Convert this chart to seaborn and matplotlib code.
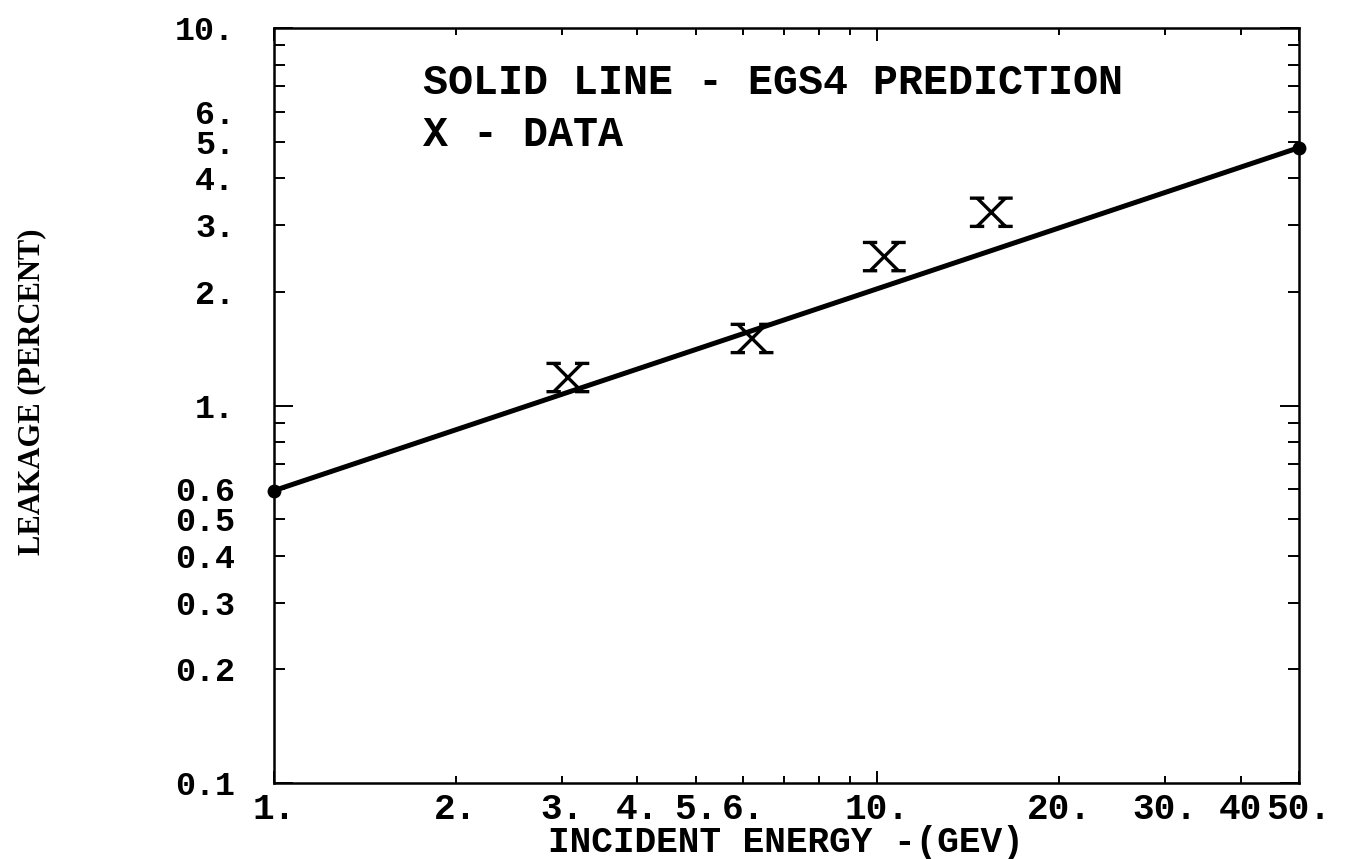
import matplotlib
matplotlib.use("Agg")
import matplotlib.pyplot as plt
import seaborn as sns
import pandas as pd
from matplotlib.path import Path
from matplotlib.ticker import FixedLocator, FixedFormatter

# ---- data ----
pred_energy = [1.0, 50.0]
pred_leakage = [0.595, 4.82]
data_energy = [3.07, 6.2, 10.27, 15.45]
data_leakage = [1.186, 1.505, 2.48, 3.25]

x_major = [1, 10, 50]
x_major_labels = ["1.", "10.", "50."]
x_minor = [2, 3, 4, 5, 6, 7, 8, 9, 20, 30, 40]
x_minor_labels = ["2.", "3.", "4.", "5.", "6.", "", "", "", "20.", "30.", "40"]
y_major = [0.1, 1, 10]
y_major_labels = ["0.1", "1.", "10."]
y_minor = [0.2, 0.3, 0.4, 0.5, 0.6, 0.7, 0.8, 0.9, 2, 3, 4, 5, 6, 7, 8, 9]
y_minor_labels = ["0.2", "0.3", "0.4", "0.5", "0.6", "", "", "",
                  "2.", "3.", "4.", "5.", "6.", "", "", ""]

legend_lines = ["SOLID LINE - EGS4 PREDICTION", "X - DATA"]
xlabel = "INCIDENT ENERGY -(GEV)"
ylabel = "LEAKAGE (PERCENT)"

sns.set_style("ticks")
plt.rcParams["font.family"] = ["Liberation Mono", "DejaVu Sans Mono"]
plt.rcParams["font.weight"] = "bold"

fig = plt.figure(figsize=(13.46, 8.59), dpi=100)
ax = fig.add_axes([274 / 1346, 1 - 783 / 859, 1025 / 1346, 755 / 859])

pred = pd.DataFrame({"energy": pred_energy, "leakage": pred_leakage})
dat = pd.DataFrame({"energy": data_energy, "leakage": data_leakage})

sns.lineplot(data=pred, x="energy", y="leakage", ax=ax, color="black",
             linewidth=3.6, marker="o", markersize=10, markeredgewidth=0,
             clip_on=False, zorder=4)

h = 0.66
verts = [(-h, h), (h, -h), (-h, -h), (h, h),
         (-1, h), (-0.33, h), (0.33, h), (1, h),
         (-1, -h), (-0.33, -h), (0.33, -h), (1, -h)]
codes = [Path.MOVETO, Path.LINETO] * 6
xmark = Path(verts, codes)
sns.scatterplot(data=dat, x="energy", y="leakage", ax=ax, marker=xmark,
                s=950, color="black", edgecolor="black", linewidth=2.4,
                zorder=5)
ax.collections[-1].set_facecolor("none")

ax.set_xscale("log")
ax.set_yscale("log")
ax.set_xlim(1, 50)
ax.set_ylim(0.1, 10)

ax.xaxis.set_major_locator(FixedLocator(x_major))
ax.xaxis.set_major_formatter(FixedFormatter(x_major_labels))
ax.xaxis.set_minor_locator(FixedLocator(x_minor))
ax.xaxis.set_minor_formatter(FixedFormatter(x_minor_labels))
ax.yaxis.set_major_locator(FixedLocator(y_major))
ax.yaxis.set_major_formatter(FixedFormatter(y_major_labels))
ax.yaxis.set_minor_locator(FixedLocator(y_minor))
ax.yaxis.set_minor_formatter(FixedFormatter(y_minor_labels))

for s in ax.spines.values():
    s.set_visible(True)
    s.set_color("black")
    s.set_linewidth(1.8)

ax.tick_params(axis="x", which="major", direction="in", length=9, width=1.4,
               top=True, bottom=True, labelsize=26, pad=6.5, colors="black")
ax.tick_params(axis="x", which="minor", direction="in", length=5, width=1.4,
               top=True, bottom=True, labelsize=26, pad=6.5, colors="black")
ax.tick_params(axis="y", which="major", direction="in", length=14, width=1.4,
               left=True, right=True, labelsize=24, pad=28, colors="black")
ax.tick_params(axis="y", which="minor", direction="in", length=8, width=1.4,
               left=True, right=True, labelsize=24, pad=28, colors="black")

ax.set_xlabel("")
ax.set_ylabel("")

ax.text(0.145, 0.927, legend_lines[0], transform=ax.transAxes, va="center",
        ha="left", fontsize=30, color="black")
ax.text(0.145, 0.858, legend_lines[1], transform=ax.transAxes, va="center",
        ha="left", fontsize=30, color="black")

fig.text(786 / 1346, 1 - 842 / 859, xlabel, ha="center", va="center",
         fontsize=26, color="black")
fig.text(32 / 1346, 1 - 392 / 859, ylabel, ha="center", va="center",
         rotation=90, fontsize=22, fontweight="bold",
         family=["Liberation Serif", "DejaVu Serif"], color="black")

fig.savefig("out.png", dpi=100, facecolor="white")
